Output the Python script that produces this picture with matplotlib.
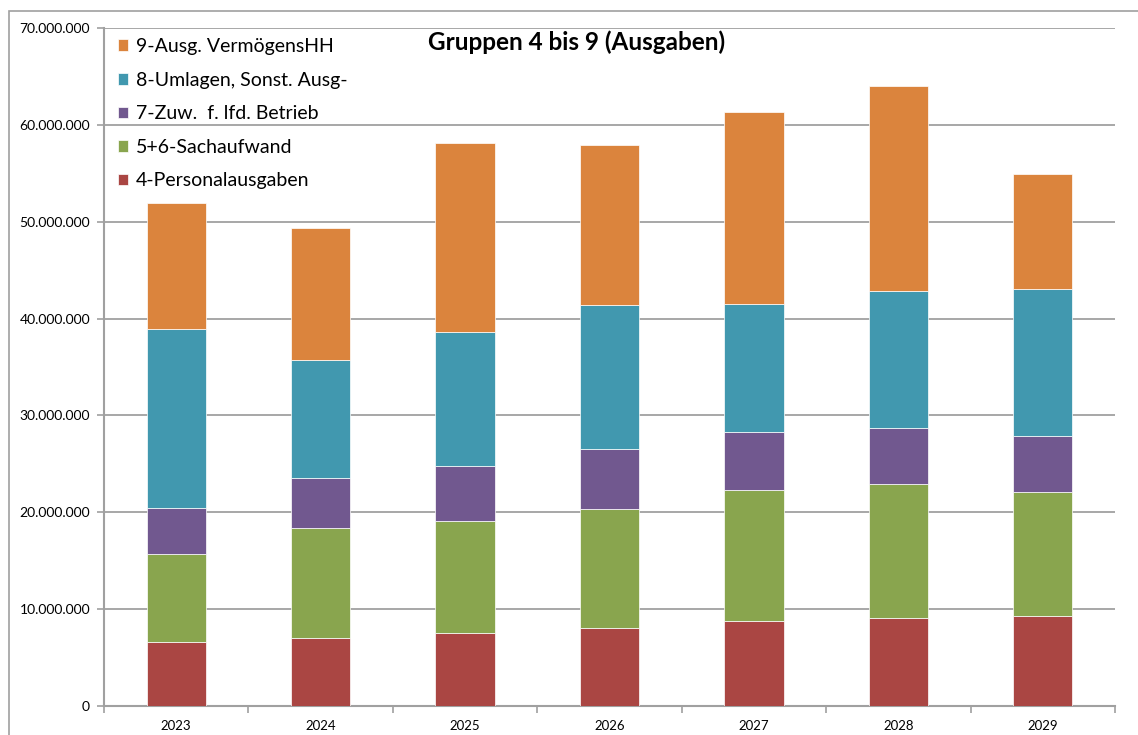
"""Gestapeltes Säulendiagramm: Gruppen 4 bis 9 (Ausgaben)."""
import matplotlib
matplotlib.use("Agg")
import matplotlib.pyplot as plt
from matplotlib.patches import Rectangle
from matplotlib.ticker import FuncFormatter, FixedLocator
import numpy as np

plt.rcParams["font.family"] = ["Lato", "DejaVu Sans"]

JAHRE = ["2023", "2024", "2025", "2026", "2027", "2028", "2029"]

# Werte in Euro, von unten nach oben gestapelt
PERSONAL = [6_600_000, 7_000_000, 7_500_000, 8_100_000, 8_800_000, 9_100_000, 9_300_000]
SACHAUFWAND = [9_100_000, 11_350_000, 11_600_000, 12_200_000, 13_500_000, 13_800_000, 12_800_000]
ZUWEISUNG = [4_700_000, 5_150_000, 5_700_000, 6_200_000, 6_000_000, 5_800_000, 5_800_000]
UMLAGEN = [18_500_000, 12_200_000, 13_800_000, 14_950_000, 13_200_000, 14_100_000, 15_200_000]
VERMOEGEN = [13_000_000, 13_600_000, 19_500_000, 16_450_000, 19_800_000, 21_200_000, 11_800_000]

SERIEN = [
    ("4-Personalausgaben", PERSONAL, "#AA4643"),
    ("5+6-Sachaufwand", SACHAUFWAND, "#89A54E"),
    ("7-Zuw.  f. lfd. Betrieb", ZUWEISUNG, "#71588F"),
    ("8-Umlagen, Sonst. Ausg-", UMLAGEN, "#4198AF"),
    ("9-Ausg. VermögensHH", VERMOEGEN, "#DB843D"),
]

GRAU = "#a0a0a0"


def tausender(v, _pos):
    return f"{int(v):,}".replace(",", ".")


def main() -> None:
    fig = plt.figure(figsize=(11.38, 7.35), dpi=100)
    ax = fig.add_axes([104 / 1138, 1 - 706 / 735, (1115 - 104) / 1138, (706 - 28) / 735])

    # äußerer Diagrammrahmen
    fig.patches.append(Rectangle((9 / 1138, -0.05), 1.2, 1 - 11 / 735 + 0.05,
                                 transform=fig.transFigure, fill=False,
                                 edgecolor=GRAU, linewidth=1.2))

    x = np.arange(len(JAHRE))
    unten = np.zeros(len(JAHRE))
    handles = []
    for name, werte, farbe in SERIEN:
        b = ax.bar(x, werte, width=0.41, bottom=unten, color=farbe,
                   edgecolor="white", linewidth=0.5, label=name, zorder=3)
        handles.append(b)
        unten += np.array(werte)

    ax.set_xlim(-0.5, len(JAHRE) - 0.5)
    ax.set_ylim(0, 70_000_000)
    ax.set_yticks(np.arange(0, 70_000_001, 10_000_000))
    ax.yaxis.set_major_formatter(FuncFormatter(tausender))
    ax.grid(axis="y", color=GRAU, linewidth=1.3, zorder=0)

    ax.set_xticks(x)
    ax.set_xticklabels(JAHRE)
    ax.xaxis.set_minor_locator(FixedLocator(np.arange(-0.5, len(JAHRE), 1.0)))
    ax.tick_params(axis="x", which="major", length=0, pad=10, labelsize=9.5)
    ax.tick_params(axis="x", which="minor", length=5, color=GRAU, width=1.2)
    ax.tick_params(axis="y", length=5, color=GRAU, width=1.2, labelsize=10, pad=5)

    for s in ("top", "right"):
        ax.spines[s].set_visible(False)
    for s in ("left", "bottom"):
        ax.spines[s].set_color(GRAU)
        ax.spines[s].set_linewidth(1.5)

    fig.text(0.507, 1 - 42 / 735, "Gruppen 4 bis 9 (Ausgaben)", ha="center",
             va="center", fontsize=17.5, fontweight="bold")

    ax.legend(handles[::-1], [s[0] for s in SERIEN][::-1], loc="upper left",
              bbox_to_anchor=(0.0, 1.005), frameon=False, fontsize=14,
              handlelength=0.55, handleheight=0.55, handletextpad=0.4,
              labelspacing=0.85, borderaxespad=0.3)

    fig.savefig("out.png", dpi=100)
    plt.close(fig)


if __name__ == "__main__":
    main()
